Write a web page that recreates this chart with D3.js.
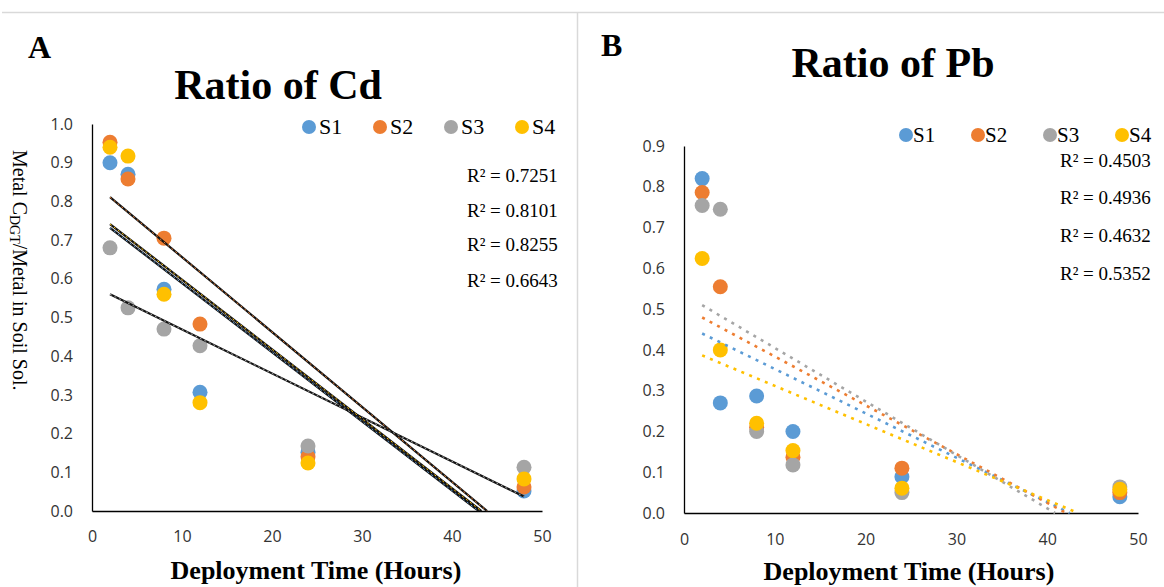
<!DOCTYPE html>
<html>
<head>
<meta charset="utf-8">
<script src="https://cdn.jsdelivr.net/npm/d3@7"></script>
<style>
  body { margin: 0; background: #fff; }
  svg { display: block; }
  .tick text { font-family: "Open Sans", sans-serif; font-size: 16px; fill: #333; }
  .serif { font-family: "Liberation Serif", "Times New Roman", serif; fill: #000; }
</style>
</head>
<body>
<script>
// sampling times (hours)
const hours = [2, 4, 8, 12, 24, 48];
const series = ["S1", "S2", "S3", "S4"];
const colors = ["#5B9BD5", "#ED7D31", "#A5A5A5", "#FFC000"];

// panel A - Cd ratios
const cdS1 = [0.900, 0.870, 0.573, 0.307, 0.152, 0.052];
const cdS2 = [0.953, 0.858, 0.705, 0.483, 0.140, 0.062];
const cdS3 = [0.680, 0.525, 0.470, 0.427, 0.168, 0.113];
const cdS4 = [0.940, 0.917, 0.560, 0.280, 0.124, 0.083];
const cdR2 = ["0.7251", "0.8101", "0.8255", "0.6643"];

// panel B - Pb ratios
const pbS1 = [0.820, 0.270, 0.287, 0.200, 0.089, 0.040];
const pbS2 = [0.786, 0.555, 0.210, 0.137, 0.110, 0.050];
const pbS3 = [0.754, 0.745, 0.200, 0.118, 0.050, 0.064];
const pbS4 = [0.624, 0.400, 0.220, 0.153, 0.061, 0.058];
const pbR2 = ["0.4503", "0.4936", "0.4632", "0.5352"];

const xTicks = [0, 10, 20, 30, 40, 50];
const cdTicks = [0, 0.1, 0.2, 0.3, 0.4, 0.5, 0.6, 0.7, 0.8, 0.9, 1.0];
const pbTicks = [0, 0.1, 0.2, 0.3, 0.4, 0.5, 0.6, 0.7, 0.8, 0.9];

const W = 1164, H = 587;
const svg = d3.select("body").append("svg")
  .attr("width", W).attr("height", H)
  .attr("viewBox", `0 0 ${W} ${H}`);

// frame lines
svg.append("line").attr("x1", 2).attr("x2", W).attr("y1", 12.5).attr("y2", 12.5)
  .attr("stroke", "#d9d9d9").attr("stroke-width", 1.5);
svg.append("line").attr("x1", 577.5).attr("x2", 577.5).attr("y1", 12).attr("y2", H)
  .attr("stroke", "#d9d9d9").attr("stroke-width", 1.5);

// least squares fit
function fit(xs, ys) {
  const mx = d3.mean(xs), my = d3.mean(ys);
  const sxy = d3.sum(xs, (x, i) => (x - mx) * (ys[i] - my));
  const sxx = d3.sum(xs, x => (x - mx) * (x - mx));
  const m = sxy / sxx;
  return { m: m, b: my - m * mx };
}

function panel(o) {
  const x = d3.scaleLinear().domain([0, 50]).range(o.xr);
  const y = d3.scaleLinear().domain(o.yd).range(o.yr);
  const g = svg.append("g");

  g.append("g").attr("transform", `translate(${o.xr[0]},0)`)
    .call(d3.axisLeft(y).tickValues(o.yTicks).tickFormat(d3.format(".1f"))
      .tickSize(0).tickPadding(19))
    .call(a => a.select(".domain").attr("stroke", "#000").attr("stroke-width", 1.3));

  g.append("g").attr("transform", `translate(0,${o.yr[0]})`)
    .call(d3.axisBottom(x).tickValues(xTicks).tickSize(0).tickPadding(o.xPad))
    .call(a => a.select(".domain").attr("stroke", "#000").attr("stroke-width", 1.3));

  // points
  o.data.forEach((vals, si) => {
    g.append("g").selectAll("circle")
      .data(vals.map((v, i) => [hours[i], v]))
      .join("circle")
      .attr("cx", d => x(d[0])).attr("cy", d => y(d[1]))
      .attr("r", o.r).attr("fill", colors[si]);
  });

  // linear trendlines, clipped at y = 0
  o.data.forEach((vals, si) => {
    const f = fit(hours, vals);
    const x0 = hours[0];
    const x1 = Math.min(hours[hours.length - 1], -f.b / f.m);
    const pts = [[x0, f.m * x0 + f.b], [x1, f.m * x1 + f.b]];
    const line = d3.line().x(d => x(d[0])).y(d => y(d[1]));
    if (o.solid) {
      g.append("path").attr("d", line(pts)).attr("fill", "none")
        .attr("stroke", "#111").attr("stroke-width", 2.2);
      g.append("path").attr("d", line(pts)).attr("fill", "none")
        .attr("stroke", colors[si]).attr("stroke-width", 1)
        .attr("stroke-dasharray", "2,3");
    } else {
      g.append("path").attr("d", line(pts)).attr("fill", "none")
        .attr("stroke", colors[si]).attr("stroke-width", 2.6)
        .attr("stroke-dasharray", "3,5.5");
    }
  });

  // legend
  series.forEach((s, i) => {
    const lx = o.legX + i * o.legStep;
    g.append("circle").attr("cx", lx).attr("cy", o.legY).attr("r", 7).attr("fill", colors[i]);
    g.append("text").attr("class", "serif").attr("x", lx + o.legGap).attr("y", o.legY + 7)
      .attr("font-size", o.legFont).text(s);
  });

  // R² labels
  o.r2.forEach((t, i) => {
    g.append("text").attr("class", "serif").attr("x", o.r2X).attr("y", o.r2Y[i])
      .attr("font-size", 19).text("R\u00B2 = " + t);
  });

  // titles
  g.append("text").attr("class", "serif").attr("x", o.letter[0]).attr("y", o.letter[1])
    .attr("font-size", 32).attr("font-weight", "bold").text(o.letterText);
  g.append("text").attr("class", "serif").attr("x", o.title[0]).attr("y", o.title[1])
    .attr("text-anchor", "middle").attr("font-size", 42).attr("font-weight", "bold")
    .text(o.titleText);
  g.append("text").attr("class", "serif").attr("x", o.xt[0]).attr("y", o.xt[1])
    .attr("text-anchor", "middle").attr("font-size", 26).attr("font-weight", "bold")
    .text("Deployment Time (Hours)");
}

panel({
  xr: [92, 542], yd: [0, 1], yr: [511, 124], yTicks: cdTicks, xPad: 20,
  data: [cdS1, cdS2, cdS3, cdS4], r: 7.5, solid: true,
  legX: 309, legStep: 71, legY: 127, legGap: 10, legFont: 22,
  r2: cdR2, r2X: 467, r2Y: [182, 217, 251, 287],
  letter: [28, 58], letterText: "A",
  title: [278, 99], titleText: "Ratio of Cd",
  xt: [316, 579]
});

panel({
  xr: [684, 1138], yd: [0, 0.9], yr: [513, 146], yTicks: pbTicks, xPad: 21,
  data: [pbS1, pbS2, pbS3, pbS4], r: 7.5, solid: false,
  legX: 906, legStep: 72, legY: 135, legGap: 7, legFont: 21,
  r2: pbR2, r2X: 1060, r2Y: [167, 204, 242, 280],
  letter: [601, 56], letterText: "B",
  title: [893, 77], titleText: "Ratio of Pb",
  xt: [909, 580]
});

// y axis label, panel A
const yl = svg.append("text").attr("class", "serif")
  .attr("transform", "translate(13,150) rotate(90)")
  .attr("font-size", 20);
yl.append("tspan").text("Metal C");
yl.append("tspan").attr("font-size", 14).attr("dy", 3).text("DGT");
yl.append("tspan").attr("dy", -3).text("/Metal in Soil Sol.");
</script>
</body>
</html>
